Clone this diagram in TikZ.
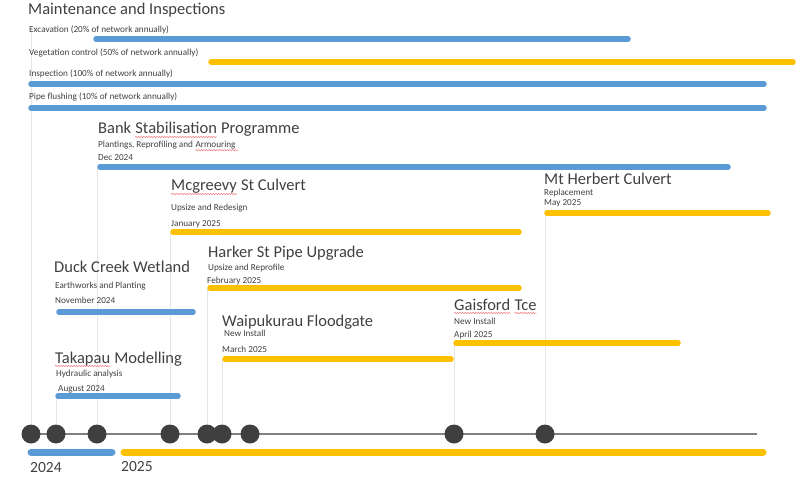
\documentclass[tikz,border=0pt]{standalone}
\usepackage{fontspec}
\setmainfont{Carlito}
\usetikzlibrary{backgrounds,calc,decorations.pathmorphing}
\definecolor{barblue}{HTML}{5B9BD5}
\definecolor{baryellow}{HTML}{FFC000}
\definecolor{txt}{HTML}{404040}
\definecolor{dotc}{HTML}{3F3F3F}
\definecolor{axisc}{HTML}{808080}
\definecolor{guidec}{HTML}{E6E6E6}
\definecolor{squig}{HTML}{F08080}
\begin{document}
\begin{tikzpicture}[x=1pt,y=-1pt,
  bigtitle/.style={anchor=base west, inner sep=0, text=txt, font=\fontsize{16.5}{18}\selectfont},
  small/.style={anchor=base west, inner sep=0, text=txt, font=\fontsize{9.2}{10}\selectfont},
  yearlabel/.style={anchor=base west, inner sep=0, text=txt, font=\fontsize{15.5}{17}\selectfont},
  barline/.style={line width=5.5pt, line cap=round},
  bluebar/.style={barline, draw=barblue},
  yellowbar/.style={barline, draw=baryellow},
  yearbar/.style={line width=7pt, line cap=round},
  guide/.style={draw=guidec, line width=0.8pt},
  axisline/.style={draw=axisc, line width=2.2pt},
  dot/.style={circle, fill=dotc, minimum size=19pt, inner sep=0},
  squigline/.style={draw=squig, line width=0.5pt, decorate,
    decoration={snake, amplitude=0.7pt, segment length=2.6pt}}]
\useasboundingbox (0,0) rectangle (799,478);

% ---------- Maintenance and Inspections ----------
\node[bigtitle] (mt) at (28,15) {Maintenance and Inspections};
\node[small] (exL) at (29,33) {Excavation (20\% of network annually)};
\draw[bluebar] (96,39) coordinate (exS) -- (628,39) coordinate (exE);
\node[small] (vgL) at (29,56) {Vegetation control (50\% of network annually)};
\draw[yellowbar] (211,62) coordinate (vgS) -- (793,62) coordinate (vgE);
\node[small] (inL) at (29,77) {Inspection (100\% of network annually)};
\draw[bluebar] (31,84) coordinate (inS) -- (764,84) coordinate (inE);
\node[small] (pfL) at (29,100) {Pipe flushing (10\% of network annually)};
\draw[bluebar] (31,108) coordinate (pfS) -- (764,108) coordinate (pfE);
\coordinate (mtTop) at (31,26);

% ---------- Bank Stabilisation ----------
\node[bigtitle] (bkT1) at (98,134) {Bank\ \kern0pt};
\node[bigtitle] (bkT2) at (bkT1.base east) {Stabilisation};
\node[bigtitle] (bkT3) at (bkT2.base east) {\ Programme};
\node[small] (bkS1) at (98,148) {Plantings, Reprofiling and\ \kern0pt};
\node[small] (bkS2) at (bkS1.base east) {Armouring\ \kern0pt};
\node[small] (bkD) at (98,161) {Dec 2024};
\draw[bluebar] (100,167) coordinate (bkA) -- (728,167) coordinate (bkB);

% ---------- Mcgreevy St Culvert ----------
\node[bigtitle] (mcT1) at (171,191) {Mcgreevy};
\node[bigtitle] (mcT2) at (mcT1.base east) {\ St Culvert};
\node[small] (mcS) at (171,211) {Upsize and Redesign};
\node[small] (mcD) at (171,226) {January 2025};
\draw[yellowbar] (173,232) coordinate (mcA) -- (519,232) coordinate (mcB);

% ---------- Mt Herbert Culvert ----------
\node[bigtitle] (mhT) at (544,185) {Mt Herbert Culvert};
\node[small] (mhS) at (544,195.5) {Replacement};
\node[small] (mhD) at (544,206) {May 2025};
\draw[yellowbar] (547,213) coordinate (mhA) -- (768,213) coordinate (mhB);

% ---------- Harker St Pipe Upgrade ----------
\node[bigtitle] (hkT) at (208,257) {Harker St Pipe Upgrade};
\node[small] (hkS) at (208,270) {Upsize and Reprofile};
\node[small] (hkD) at (207,283) {February 2025};
\draw[yellowbar] (210,288) coordinate (hkA) -- (519,288) coordinate (hkB);

% ---------- Duck Creek Wetland ----------
\node[bigtitle] (dcT) at (54,272) {Duck Creek Wetland};
\node[small] (dcS) at (55,288) {Earthworks and Planting};
\node[small] (dcD) at (55,303) {November 2024};
\draw[bluebar] (59,312) coordinate (dcA) -- (193,312) coordinate (dcB);

% ---------- Gaisford Tce ----------
\node[bigtitle] (gsT1) at (454,310) {Gaisford};
\node[bigtitle] (gsT2) at (gsT1.base east) {\ \kern0pt};
\node[bigtitle] (gsT3) at (gsT2.base east) {Tce};
\node[small] (gsS) at (454,324) {New Install};
\node[small] (gsD) at (454,337) {April 2025};
\draw[yellowbar] (456,343) coordinate (gsA) -- (678,343) coordinate (gsB);

% ---------- Waipukurau Floodgate ----------
\node[bigtitle] (wpT) at (222,326) {Waipukurau Floodgate};
\node[small] (wpS) at (224,336) {New Install};
\node[small] (wpD) at (222,352) {March 2025};
\draw[yellowbar] (225,359) coordinate (wpA) -- (451,359) coordinate (wpB);

% ---------- Takapau Modelling ----------
\node[bigtitle] (tkT1) at (55,363) {Takapau};
\node[bigtitle] (tkT2) at (tkT1.base east) {\ Modelling};
\node[small] (tkS) at (56,376) {Hydraulic analysis};
\node[small] (tkD) at (58,391) {August 2024};
\draw[bluebar] (58,396) coordinate (tkA) -- (178,396) coordinate (tkB);

% ---------- spelling marks ----------
\foreach \w in {bkT2,mcT1,gsT1,gsT3,tkT1}
  \draw[squigline] ($(\w.base west)+(0,3)$) -- ($(\w.base east)+(0,3)$);
\draw[squigline] ($(bkS2.base west)+(0,2.2)$) -- ($(bkS2.base east)+(0,2.2)$);

% ---------- Timeline ----------
\coordinate (axS) at (31,434);
\coordinate (axE) at (757,434);
\draw[axisline] (axS) -- (axE);
\node[dot] (d1) at (31,434) {};
\node[dot] (d2) at (56,434) {};
\node[dot] (d3) at (97,434) {};
\node[dot] (d4) at (170,434) {};
\node[dot] (d5) at (207,434) {};
\node[dot] (d6) at (222,434) {};
\node[dot] (d7) at (250,434) {};
\node[dot] (d8) at (454,434) {};
\node[dot] (d9) at (545,434) {};

\draw[yearbar, draw=barblue] (31,452) coordinate (y4A) -- (112,452) coordinate (y4B);
\draw[yearbar, draw=baryellow] (124,452) coordinate (y5A) -- (763,452) coordinate (y5B);
\node[yearlabel] (y2024) at (30,472) {2024};
\node[yearlabel] (y2025) at (121,471) {2025};

% ---------- guide lines ----------
\begin{scope}[on background layer]
\draw[guide] (d1) -- (d1 |- mtTop);
\draw[guide] (d2) -- (d2 |- tkA);
\draw[guide] (d3) -- (d3 |- bkA);
\draw[guide] (d4) -- (d4 |- mcA);
\draw[guide] (d5) -- (d5 |- hkA);
\draw[guide] (d6) -- (d6 |- wpA);
\draw[guide] (d8) -- (d8 |- gsA);
\draw[guide] (d9) -- (d9 |- mhA);
\end{scope}
\end{tikzpicture}
\end{document}
